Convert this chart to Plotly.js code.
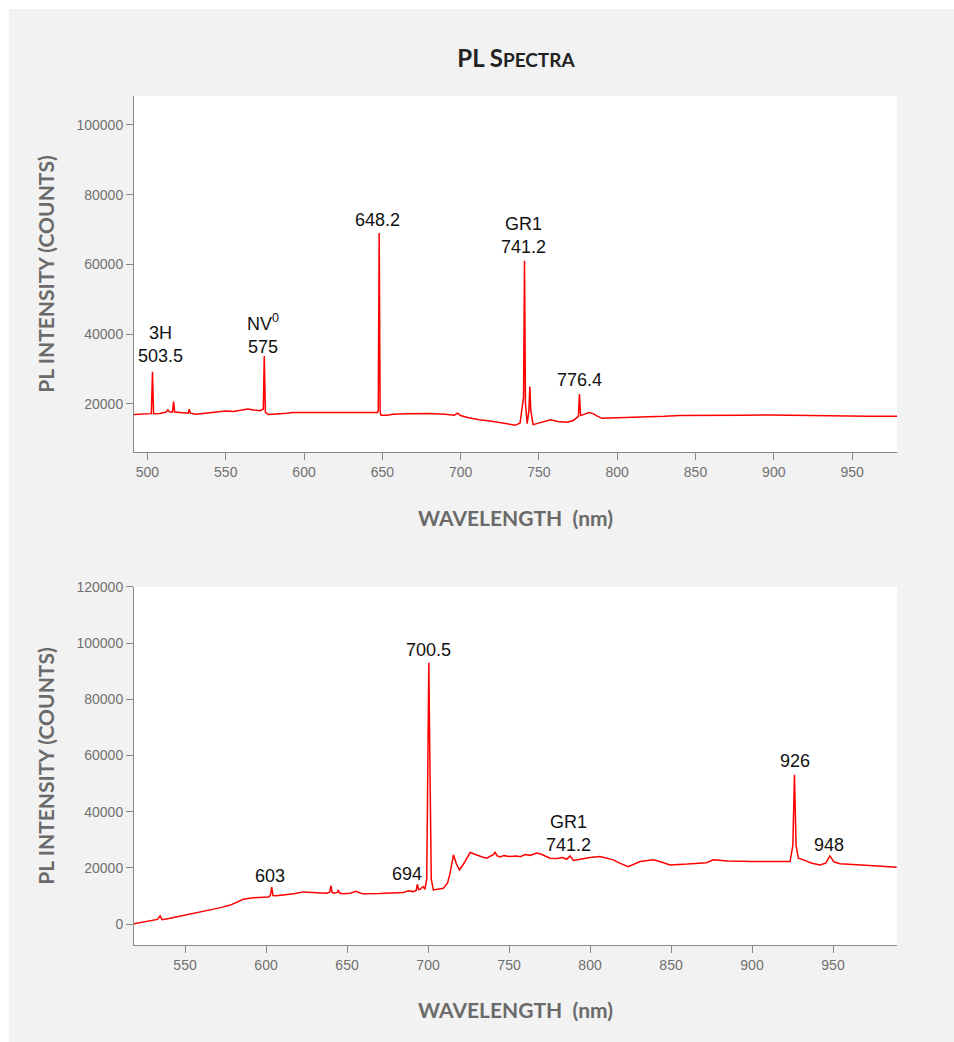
<!DOCTYPE html>
<html>
<head>
<meta charset="utf-8">
<script src="https://cdn.plot.ly/plotly-3.0.1.min.js"></script>
<style>
  html, body { margin: 0; padding: 0; background: #ffffff; }
  #chart { position: absolute; left: 9px; top: 9px; width: 945px; height: 1033px; }
</style>
</head>
<body>
<div id="chart"></div>
<script>
// ---- Top spectrum (wavelength nm, PL counts) ----
const topWavelength = [491.4, 495, 500, 502.5, 503.2, 503.9, 508, 512, 513, 514, 516, 516.7, 517.4, 521, 526, 526.7, 527.4, 531, 535, 540, 545, 550, 555, 560, 564, 568, 572, 574, 574.6, 575.3, 577, 580, 585, 589, 592.6, 646.8, 647.4, 648.0, 648.6, 649.2, 653, 657, 665, 680, 690, 696, 698, 700, 705, 712, 720, 728, 735, 738, 740.2, 740.8, 741.4, 742.5, 743.6, 744.2, 744.8, 746.3, 750, 754, 757.4, 762, 768, 772, 775.2, 775.9, 776.6, 778, 780, 782, 785, 787, 790.3, 800, 815, 830, 840, 860, 880, 898, 920, 942, 960, 979];
const topCounts = [16900, 17000, 17100, 17150, 29200, 17100, 17200, 17600, 18200, 17700, 17600, 20600, 17600, 17500, 17300, 18400, 17300, 17000, 17200, 17500, 17700, 17900, 17800, 18100, 18500, 18200, 18000, 18500, 33700, 17600, 16900, 17000, 17100, 17300, 17500, 17500, 18000, 69000, 17500, 16700, 16700, 17000, 17100, 17200, 17000, 16700, 17300, 16600, 16000, 15400, 15000, 14400, 13800, 14500, 22000, 61000, 20000, 14300, 18000, 24900, 18000, 14000, 14400, 15000, 15400, 14900, 14700, 15200, 16400, 22800, 16600, 16800, 17100, 17500, 17100, 16500, 15800, 15900, 16200, 16400, 16650, 16600, 16700, 16760, 16600, 16370, 16400, 16370];

// ---- Bottom spectrum (wavelength nm, PL counts) ----
const bottomWavelength = [518.5, 522, 527.4, 530, 533, 534.6, 535.8, 540, 545, 550, 557, 565, 572, 578, 583, 586, 592, 597, 601.4, 602.7, 603.5, 604.3, 606, 612, 618, 623, 628, 632, 637.5, 639.4, 640.1, 640.8, 642, 643.9, 644.6, 645.3, 647.7, 652, 655.6, 658, 660, 670, 680, 684.8, 687.8, 690.9, 692.7, 693.4, 694.2, 695, 697.1, 698.1, 699.2, 699.8, 700.5, 701.2, 702, 703.3, 706, 709.5, 712, 713.6, 715.7, 717.5, 719.4, 722, 726, 730, 733, 736.2, 738.5, 740.5, 741.4, 742.5, 744.4, 747, 750, 754.7, 757, 760, 763, 767.1, 770, 772.5, 775.3, 780, 783, 785.6, 787.7, 789.7, 795, 800, 806.2, 810, 814.4, 818, 823.6, 830.9, 835, 839.1, 843, 849.4, 860, 872, 876, 885, 900, 915, 923.5, 925.2, 926.2, 927.2, 928.6, 931.7, 937, 942, 945.5, 948.1, 950.5, 954.3, 965, 975, 989.3];
const bottomCounts = [200, 500, 1170, 1400, 1700, 2950, 1600, 2000, 2600, 3100, 3900, 4900, 5900, 6800, 8000, 8900, 9400, 9500, 9700, 10200, 13200, 10200, 10100, 10500, 10900, 11500, 11300, 11100, 11000, 11500, 13700, 11300, 11000, 11300, 12200, 11100, 10800, 11000, 11700, 11100, 10800, 10900, 11000, 11250, 11900, 11600, 12000, 14200, 12300, 12400, 13400, 12400, 16000, 60000, 93000, 55000, 16000, 12200, 12500, 12800, 14600, 18100, 24700, 21500, 19300, 21500, 25500, 24500, 24000, 23500, 24200, 24800, 25700, 24400, 23900, 24400, 24100, 24300, 24000, 24800, 24500, 25300, 24900, 24200, 23500, 23400, 23700, 23100, 24300, 22700, 23300, 23700, 24100, 23600, 22900, 21800, 20500, 22300, 22500, 22900, 22300, 21100, 21400, 21900, 22900, 22500, 22300, 22200, 22300, 28000, 53200, 28000, 23500, 22900, 21700, 21100, 21700, 24300, 22200, 21500, 21000, 20800, 20300];

// ---- Peak labels ----
const topLabels = ["3H<br>503.5", "NV<sup>0</sup><br>575", "648.2", "GR1<br>741.2", "776.4"];
const topLabelX = [508.6, 573.7, 647.0, 740.1, 775.9];
const topLabelY = [36900, 40070, 72750, 68170, 26880];

const bottomLabels = ["603", "694", "700.5", "GR1<br>741.2", "926", "948"];
const bottomLabelX = [602.5, 687.0, 700.5, 787.0, 926.5, 947.5];
const bottomLabelY = [17200, 17910, 97680, 32330, 58150, 28240];

const lineStyle = {color: '#ff0000', width: 1.5};

const traces = [
  {x: topWavelength, y: topCounts, type: 'scatter', mode: 'lines', line: lineStyle, xaxis: 'x', yaxis: 'y', hoverinfo: 'x+y'},
  {x: bottomWavelength, y: bottomCounts, type: 'scatter', mode: 'lines', line: lineStyle, xaxis: 'x2', yaxis: 'y2', hoverinfo: 'x+y'}
];

const labelFont = {family: 'Liberation Sans, Arial, sans-serif', size: 18, color: '#111111'};
const annotations = [];
topLabels.forEach((t, i) => annotations.push({x: topLabelX[i], y: topLabelY[i], xref: 'x', yref: 'y', text: t, showarrow: false, font: labelFont, xanchor: 'center', yanchor: 'middle'}));
bottomLabels.forEach((t, i) => annotations.push({x: bottomLabelX[i], y: bottomLabelY[i], xref: 'x2', yref: 'y2', text: t, showarrow: false, font: labelFont, xanchor: 'center', yanchor: 'middle'}));

const tickFont = {family: 'Liberation Sans, Arial, sans-serif', size: 14, color: '#707070'};
const axTitleFont = {family: 'Lato, sans-serif', size: 21, color: '#6a6a6a', weight: 'bold'};

function xAxis(range, anchor, standoff) {
  return {
    range: range, anchor: anchor, tick0: 500, dtick: 50,
    showgrid: false, zeroline: false, showline: true, linecolor: '#888888', linewidth: 1,
    ticks: 'outside', ticklen: 7, tickcolor: '#888888', tickwidth: 1,
    tickfont: tickFont,
    title: {text: 'WAVELENGTH&nbsp;&nbsp;(nm)', font: axTitleFont, standoff: standoff}
  };
}
function yAxis(range, domain, anchor) {
  return {
    range: range, domain: domain, anchor: anchor, tick0: 0, dtick: 20000, tickformat: 'd',
    showgrid: false, zeroline: false, showline: true, linecolor: '#888888', linewidth: 1,
    ticks: 'outside', ticklen: 7, tickcolor: '#888888', tickwidth: 1,
    tickfont: tickFont,
    title: {text: 'PL INTENSITY (COUNTS)', font: axTitleFont, standoff: 16}
  };
}

const layout = {
  width: 945, height: 1033,
  paper_bgcolor: '#f2f2f2', plot_bgcolor: '#ffffff',
  margin: {l: 125, r: 57, t: 87, b: 97},
  showlegend: false,
  title: {
    text: 'PL S<span style="font-size:19px">PECTRA</span>',
    font: {family: 'Lato, sans-serif', size: 24, color: '#222222', weight: 'bold'},
    x: 0.5365, xref: 'container', xanchor: 'center',
    y: 0.9516, yref: 'container', yanchor: 'middle'
  },
  xaxis: xAxis([491.4, 978.7], 'y', 32),
  yaxis: yAxis([6150, 108300], [0.5807, 1], 'x'),
  xaxis2: xAxis([518.5, 989.5], 'y2', 31),
  yaxis2: yAxis([-7400, 120000], [0, 0.4217], 'x2'),
  annotations: annotations
};

Plotly.newPlot('chart', traces, layout, {displayModeBar: false, staticPlot: true});
</script>
</body>
</html>
